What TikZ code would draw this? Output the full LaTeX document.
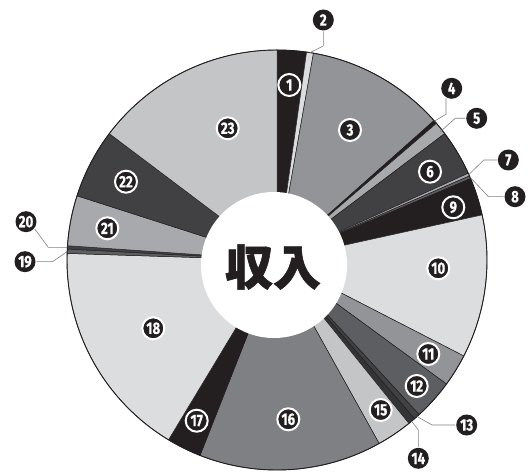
\documentclass[tikz,border=0pt]{standalone}
\usepackage{fontspec}
\newfontfamily\numf{Fira Sans}[BoldFeatures={FakeBold=0.6}]
\newfontfamily\cjk{Noto Sans CJK JP}[BoldFeatures={FakeBold=1.2}]
\newcommand\pieslice[3]{\filldraw[slice,fill=#3] (C) -- ([shift={(C)}]#1:210) arc[start angle=#1, end angle=#2, radius=210] -- cycle;}
\newcommand\nm[1]{\scalebox{0.8}[1]{#1}}
\definecolor{blk}{HTML}{231F20}
\definecolor{gA}{HTML}{DCDDDE}
\definecolor{gB}{HTML}{C4C5C7}
\definecolor{gC}{HTML}{A7A9AC}
\definecolor{gD}{HTML}{929497}
\definecolor{gE}{HTML}{7F8083}
\definecolor{gF}{HTML}{5D5E61}
\definecolor{gG}{HTML}{414143}
\tikzset{
  slice/.style={draw=blk, line width=0.5pt, line join=round},
  lbl/.style={circle, fill=blk, draw=white, line width=2pt, minimum size=22pt, inner sep=0pt, text=white, font=\numf\bfseries\fontsize{16.5}{16.5}\selectfont},
  ext/.style={lbl, draw=none, minimum size=21pt},
  lead/.style={draw=gE, line width=0.6pt}
}
\begin{document}
\begin{tikzpicture}[x=1pt,y=1pt]
\useasboundingbox (0,0) rectangle (532,471);
\coordinate (C) at (277,211);
\pieslice{90}{81.9}{blk}
\pieslice{81.9}{80}{gA}
\pieslice{80}{41.6}{gD}
\pieslice{41.6}{40.6}{blk}
\pieslice{40.6}{37}{gC}
\pieslice{37}{24.4}{gG}
\pieslice{24.4}{23.6}{gC}
\pieslice{23.6}{22.8}{gF}
\pieslice{22.8}{12.4}{blk}
\pieslice{12.4}{-27.2}{gA}
\pieslice{-27.2}{-36.2}{gD}
\pieslice{-36.2}{-47.4}{gF}
\pieslice{-47.4}{-49.1}{gG}
\pieslice{-49.1}{-51.1}{gG!80!black}
\pieslice{-51.1}{-60.9}{gB}
\pieslice{-60.9}{-111.5}{gE}
\pieslice{-111.5}{-121.1}{blk}
\pieslice{-121.1}{-181.8}{gA}
\pieslice{-181.8}{-183}{gF}
\pieslice{-183}{-183.9}{gG}
\pieslice{-183.9}{-197.8}{gC}
\pieslice{-197.8}{-217}{gG}
\pieslice{-217}{-270}{gB}
\draw[blk, line width=0.9pt] (C) circle[radius=210];
\fill[white] (274,206) circle[radius=73];
\node[font=\cjk\bfseries\fontsize{48}{48}\selectfont, text=blk] (title) at (273,204) {収入};
% labels
\node[lbl] (l1) at (289.3,386) {\nm{1}};
\node[ext] (l2) at (323.3,451) {\nm{2}};
\node[lbl] (l3) at (350,341) {\nm{3}};
\node[ext] (l4) at (451.7,382.7) {\nm{4}};
\node[ext] (l5) at (476.7,352.7) {\nm{5}};
\node[lbl] (l6) at (430,299.3) {\nm{6}};
\node[ext] (l7) at (508.3,311) {\nm{7}};
\node[ext] (l8) at (515,274.3) {\nm{8}};
\node[lbl] (l9) at (453.3,263.7) {\nm{9}};
\node[lbl] (l10) at (438.3,202.7) {\nm{10}};
\node[lbl] (l11) at (428.3,117) {\nm{11}};
\node[lbl] (l12) at (416.7,85) {\nm{12}};
\node[ext] (l13) at (466.7,46) {\nm{13}};
\node[ext] (l14) at (418.3,12.7) {\nm{14}};
\node[lbl] (l15) at (380.7,61) {\nm{15}};
\node[lbl] (l16) at (288.3,51.7) {\nm{16}};
\node[lbl] (l17) at (196.7,50.3) {\nm{17}};
\node[lbl] (l18) at (153.3,142.7) {\nm{18}};
\node[ext] (l19) at (25,209.3) {\nm{19}};
\node[ext] (l20) at (26,249.3) {\nm{20}};
\node[lbl] (l21) at (107.3,242.7) {\nm{21}};
\node[lbl] (l22) at (126,289.3) {\nm{22}};
\node[lbl] (l23) at (227.7,342.7) {\nm{23}};
% leader ends
\coordinate (e2) at (309.9,418.4);
\coordinate (e4) at (434.5,349.9);
\coordinate (e5) at (440,339);
\coordinate (e7) at (468.8,296.4);
\coordinate (e8) at (470.1,293.7);
\coordinate (e13) at (417,54.5);
\coordinate (e14) at (411.6,49.8);
\coordinate (e19) at (67.2,219.4);
\coordinate (e20) at (67.4,223.6);
\draw[lead] (l2.south) -- (323.3,425) -- (e2);
\draw[lead] (l4.240) -- ++(0,-16) -- (e4);
\draw[lead] (l5.west) -- ++(-10,0) -- (e5);
\draw[lead] (l7.west) -- ++(-13,0) -- (e7);
\draw[lead] (l8.west) -- ++(-15,0) -- (e8);
\draw[lead] (l13.west) -- ++(-23,0) -- (e13);
\draw[lead] (l14.north) -- (418.3,41) -- (e14);
\draw[lead] (l19.east) -- ++(16,0) -- (e19);
\draw[lead] (l20.-40) -- (48.3,223.6) -- (e20);
\end{tikzpicture}
\end{document}
